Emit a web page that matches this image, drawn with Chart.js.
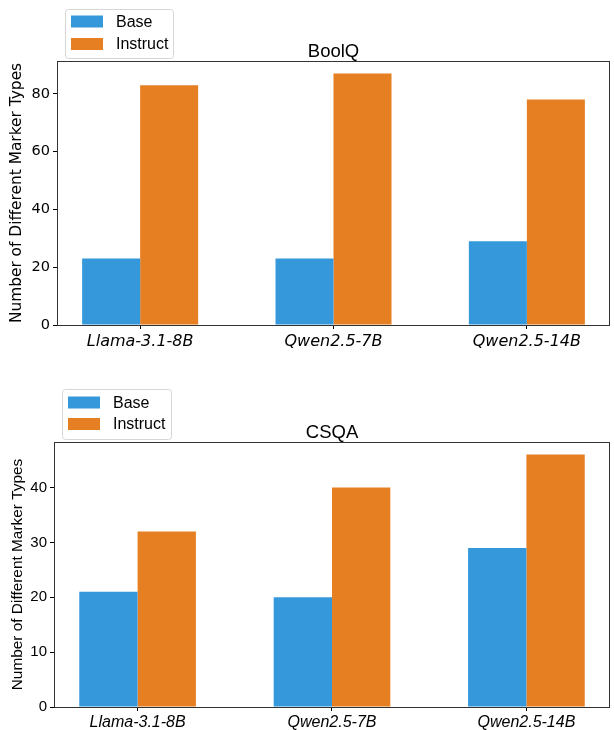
<!DOCTYPE html>
<html>
<head>
<meta charset="utf-8">
<script src="https://cdn.jsdelivr.net/npm/chart.js@4.4.0/dist/chart.umd.min.js"></script>
<style>
  html, body { margin: 0; padding: 0; background: #fff; }
  body { width: 614px; height: 730px; position: relative; overflow: hidden; }
  canvas { position: absolute; left: 0; }
</style>
</head>
<body>
<canvas id="c1" width="614" height="365" style="top:0px"></canvas>
<canvas id="c2" width="614" height="365" style="top:365px"></canvas>
<script>
const categories = ['Llama-3.1-8B', 'Qwen2.5-7B', 'Qwen2.5-14B'];
const seriesNames = ['Base', 'Instruct'];
const seriesColors = ['#3498db', '#e67e22'];
const boolqBase = [23, 23, 29];
const boolqInstruct = [83, 87, 78];
const csqaBase = [21, 20, 29];
const csqaInstruct = [32, 40, 46];
const boolqTicks = [0, 20, 40, 60, 80];
const csqaTicks = [0, 10, 20, 30, 40];
const yLabel = 'Number of Different Marker Types';

function makeChart(id, title, base, instruct, yTicks, yMax, L) {
  const framePlugin = {
    id: 'frame_' + id,
    afterDraw(chart) {
      const ctx = chart.ctx;
      const a = chart.chartArea;
      ctx.save();
      ctx.strokeStyle = '#333';
      ctx.lineWidth = 1;
      ctx.strokeRect(Math.round(a.left) + 0.5, Math.round(a.top) + 0.5,
                     Math.round(a.right - a.left) - 1, Math.round(a.bottom - a.top));
      // title
      ctx.fillStyle = '#000';
      ctx.font = L.titleFont;
      ctx.textAlign = 'center';
      ctx.textBaseline = 'alphabetic';
      ctx.fillText(title, (a.left + a.right) / 2, a.top - L.titleGap);
      // legend
      const lg = L.legend;
      ctx.beginPath();
      const r = 3;
      const x0 = lg.x + 0.5, y0 = lg.y + 0.5, w = lg.w, h = lg.h;
      ctx.moveTo(x0 + r, y0);
      ctx.lineTo(x0 + w - r, y0);
      ctx.quadraticCurveTo(x0 + w, y0, x0 + w, y0 + r);
      ctx.lineTo(x0 + w, y0 + h - r);
      ctx.quadraticCurveTo(x0 + w, y0 + h, x0 + w - r, y0 + h);
      ctx.lineTo(x0 + r, y0 + h);
      ctx.quadraticCurveTo(x0, y0 + h, x0, y0 + h - r);
      ctx.lineTo(x0, y0 + r);
      ctx.quadraticCurveTo(x0, y0, x0 + r, y0);
      ctx.closePath();
      ctx.fillStyle = 'rgba(255,255,255,0.8)';
      ctx.fill();
      ctx.strokeStyle = '#d6d6d6';
      ctx.stroke();
      ctx.font = L.legendFont;
      ctx.textAlign = 'left';
      ctx.textBaseline = 'middle';
      chart.data.datasets.forEach((ds, i) => {
        const cy = lg.rows[i];
        ctx.fillStyle = ds.backgroundColor;
        ctx.fillRect(lg.x + 6, cy - 6, 32, 12);
        ctx.fillStyle = '#000';
        ctx.fillText(ds.label, lg.x + 51, cy + 1);
      });
      ctx.restore();
    }
  };

  return new Chart(document.getElementById(id), {
    type: 'bar',
    data: {
      datasets: [
        { label: seriesNames[0], data: base.map((v, i) => ({ x: i, y: v })),
          backgroundColor: seriesColors[0], borderWidth: 0 },
        { label: seriesNames[1], data: instruct.map((v, i) => ({ x: i, y: v })),
          backgroundColor: seriesColors[1], borderWidth: 0 }
      ]
    },
    options: {
      responsive: false,
      animation: false,
      devicePixelRatio: 1,
      categoryPercentage: 0.6,
      barPercentage: 1.0,
      layout: { padding: { left: 0, right: L.padRight, top: L.padTop, bottom: 0 } },
      plugins: { legend: { display: false }, tooltip: { enabled: false }, title: { display: false } },
      scales: {
        x: {
          type: 'linear',
          offset: false,
          min: -0.43,
          max: 2.43,
          grid: { display: true, drawOnChartArea: false, drawTicks: true, tickLength: 4, color: '#000', offset: false },
          border: { display: false },
          afterBuildTicks(scale) { scale.ticks = categories.map((_, i) => ({ value: i })); },
          afterFit(scale) { scale.height = L.xHeight; },
          ticks: {
            autoSkip: false, maxRotation: 0, padding: L.xPad, color: '#000',
            font: L.xFont,
            callback: (v) => categories[v]
          }
        },
        y: {
          min: 0,
          max: yMax,
          grid: { display: true, drawOnChartArea: false, drawTicks: true, tickLength: 4, color: '#000' },
          border: { display: false },
          afterBuildTicks(scale) { scale.ticks = yTicks.map(v => ({ value: v })); },
          afterFit(scale) { scale.width = L.yWidth; },
          ticks: { padding: 3, color: '#000', font: L.yFont, callback: (v) => String(v) },
          title: { display: true, text: yLabel, color: '#000', font: L.yTitleFont, padding: { top: L.yTitlePad, bottom: 0 } }
        }
      }
    },
    plugins: [framePlugin]
  });
}

makeChart('c1', 'BoolQ', boolqBase, boolqInstruct, boolqTicks, 91.35, {
  padTop: 61, padRight: 4, xHeight: 40, yWidth: 57,
  titleGap: 4, titleFont: '18.5px "Liberation Sans", Arial, sans-serif',
  legendFont: '16px "Liberation Sans", Arial, sans-serif',
  xFont: { family: 'DejaVu Sans', size: 16, style: 'italic' },
  xPad: 3,
  yFont: { family: 'DejaVu Sans', size: 14.5 },
  yTitleFont: { family: 'DejaVu Sans', size: 15.4 },
  yTitlePad: 8,
  legend: { x: 65, y: 9, w: 108, h: 49, rows: [21.5, 44] }
});

makeChart('c2', 'CSQA', csqaBase, csqaInstruct, csqaTicks, 48.3, {
  padTop: 77, padRight: 4, xHeight: 23, yWidth: 54,
  titleGap: 4, titleFont: '18.5px "Liberation Sans", Arial, sans-serif',
  legendFont: '16px "Liberation Sans", Arial, sans-serif',
  xFont: { family: 'Liberation Sans', size: 16, style: 'italic' },
  xPad: 2,
  yFont: { family: 'Liberation Sans', size: 15 },
  yTitleFont: { family: 'Liberation Sans', size: 15.4 },
  yTitlePad: 9,
  legend: { x: 62, y: 24, w: 109, h: 50, rows: [37.5, 59] }
});
</script>
</body>
</html>
